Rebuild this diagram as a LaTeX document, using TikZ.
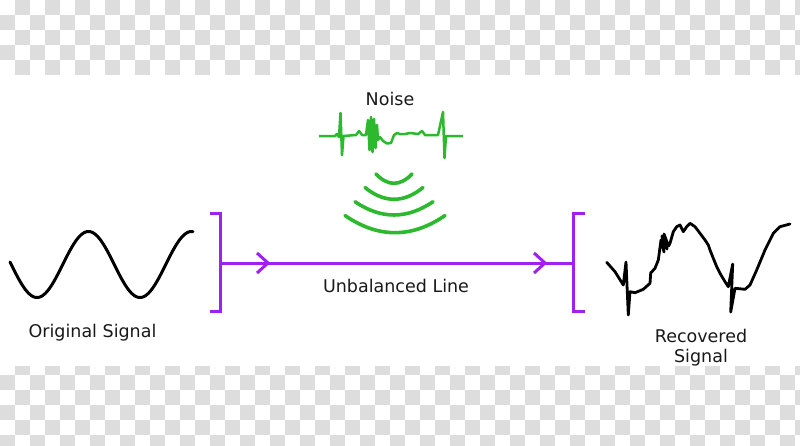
\documentclass[tikz,border=0pt]{standalone}
\usepackage{fontspec}
\setmainfont{DejaVu Sans}
\usetikzlibrary{calc}
\definecolor{chk}{RGB}{221,221,221}
\definecolor{linepurple}{RGB}{160,32,240}
\definecolor{noisegreen}{RGB}{45,185,45}
\definecolor{txt}{RGB}{25,25,25}
\tikzset{
  label text/.style={font=\fontsize{17.5}{20}\selectfont, text=txt, inner sep=0pt},
  sigline/.style={black, line width=3pt, line join=round, line cap=round},
  purpline/.style={linepurple, line width=3pt},
  noiseline/.style={noisegreen, line width=2.5pt, line join=round},
  wave/.style={noisegreen, line width=3.6pt, line cap=round},
}
\begin{document}
\begin{tikzpicture}[x=1pt,y=-1pt]
\useasboundingbox (0,0) rectangle (800,445);
\fill[white] (0,0) rectangle (800,445);
% checkerboard top
\begin{scope}
\clip (0,0) rectangle (800,75);
\foreach \j in {0,2,4} {\foreach \i in {1,3,...,53} {\fill[chk] (\i*15,\j*15) rectangle +(15,15);}}
\foreach \j in {1,3} {\foreach \i in {0,2,...,52} {\fill[chk] (\i*15,\j*15) rectangle +(15,15);}}
\end{scope}
% checkerboard bottom
\begin{scope}
\clip (0,366) rectangle (800,445);
\foreach \j in {24,26,28} {\foreach \i in {1,3,...,53} {\fill[chk] (\i*15,\j*15) rectangle +(15,15);}}
\foreach \j in {25,27,29} {\foreach \i in {0,2,...,52} {\fill[chk] (\i*15,\j*15) rectangle +(15,15);}}
\end{scope}

% original signal
\draw[sigline] plot[domain=10:193, samples=120] (\x, {264.5+33*cos(3.49515*(\x-37))});
\node[label text, anchor=base] (orig) at (92.5,337) {Original Signal};

% line with brackets
\coordinate (L) at (220,263);
\coordinate (R) at (573,263);
\draw[purpline] ($(L)+(-10,-50)$) -- ($(L)+(0,-50)$) -- ($(L)+(0,48)$) -- ($(L)+(-10,48)$);
\draw[purpline] ($(R)+(12,-50)$) -- ($(R)+(0,-50)$) -- ($(R)+(0,48)$) -- ($(R)+(12,48)$);
\draw[purpline] (L) -- (R);
\draw[purpline, line join=miter] ($(L)+(37,-10)$) -- ($(L)+(48,0)$) -- ($(L)+(37,10)$);
\draw[purpline, line join=miter] ($(R)+(-39,-10)$) -- ($(R)+(-28,0)$) -- ($(R)+(-39,10)$);
\node[label text, anchor=base] (line) at (396,292) {Unbalanced Line};

% noise
\node[label text, anchor=base] (noise) at (390,105) {Noise};
\draw[noiseline] (319,136) -- (335,136) -- (337,134) -- (339,137) -- (340.5,113) -- (342,155) -- (343.5,136)
  -- (356,135) -- (359,131) -- (362,135) -- (366,135)
  -- (368,120) -- (369.5,150) -- (371,117) -- (372.5,152) -- (374,119) -- (375.5,148) -- (377,125) -- (378,140)
  -- (380,137) -- (383,141) -- (387,143.5) -- (391,143) -- (394,135) -- (397,133) -- (400,134) -- (405,134)
  -- (410,133) -- (418,134) -- (422,131) -- (425,135) -- (438,135)
  -- (443,112) -- (444.5,158) -- (446,136) -- (463,136);
% waves
\draw[wave] (376,174) .. controls (388,186.4) and (400,186.4) .. (412,174);
\draw[wave] (365,187.5) .. controls (384.3,203.2) and (403.7,203.2) .. (423,187.5);
\draw[wave] (355,201.7) .. controls (381,219.4) and (407,219.4) .. (433,201.7);
\draw[wave] (345,215.5) .. controls (378.3,238.4) and (411.7,238.4) .. (445,215.5);

% recovered signal
\draw[sigline, line width=2.8pt] (606.7,262.3) -- (615,271.7) -- (623.3,285) -- (626,262) -- (628.3,315) -- (630,291.7)
  -- (635,292.7) -- (643.3,289.3) -- (650,283.3) -- (650.7,273) -- (655,268.3) -- (658.3,260)
  -- (661,240) -- (664,252) -- (662,236) -- (667,249) -- (664,234) -- (668.5,246) -- (670,243.3)
  -- (673.3,231.7) -- (676.7,226.7) -- (680,225) -- (683.3,231.7) -- (686.7,226.7) -- (690,223.3)
  -- (695,226.7) -- (700,233.3) -- (705,240) -- (708.3,245) -- (710,250) -- (713.3,258.3) -- (716.7,266.7)
  -- (720,273.3) -- (725,281.7) -- (728.3,286.7) -- (732.7,264) -- (730.7,312) -- (735,288.3)
  -- (745,289.3) -- (750,285) -- (756.7,270) -- (765,250) -- (773.3,233.3) -- (780,226.7) -- (790,224);
\node[label text, anchor=base, align=center] (rec) at (701,362) {Recovered\\Signal};
\end{tikzpicture}
\end{document}
